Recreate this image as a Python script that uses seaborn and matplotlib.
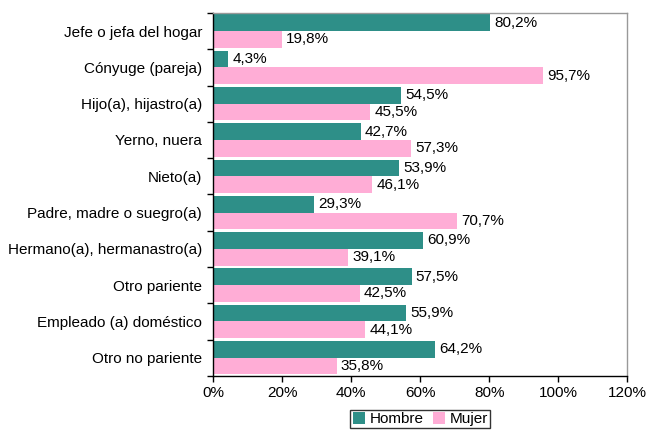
import pandas as pd
import numpy as np
import matplotlib
matplotlib.use("Agg")
import matplotlib.pyplot as plt
import seaborn as sns
from matplotlib.ticker import FuncFormatter, FixedLocator

sns.set_style("white")
plt.rcParams['font.family'] = ['Liberation Sans', 'DejaVu Sans']
plt.rcParams['text.color'] = "black"
plt.rcParams['xtick.color'] = "black"
plt.rcParams['ytick.color'] = "black"

# datos
categorias = ["Jefe o jefa del hogar", "Cónyuge (pareja)", "Hijo(a), hijastro(a)",
              "Yerno, nuera", "Nieto(a)", "Padre, madre o suegro(a)",
              "Hermano(a), hermanastro(a)", "Otro pariente",
              "Empleado (a) doméstico", "Otro no pariente"]
hombre = [80.2, 4.3, 54.5, 42.7, 53.9, 29.3, 60.9, 57.5, 55.9, 64.2]
mujer = [19.8, 95.7, 45.5, 57.3, 46.1, 70.7, 39.1, 42.5, 44.1, 35.8]
series = ["Hombre", "Mujer"]
colores = ["#2E8F88", "#FFADD6"]

df = pd.DataFrame({
    "categoria": categorias * 2,
    "valor": hombre + mujer,
    "sexo": ["Hombre"] * len(categorias) + ["Mujer"] * len(categorias),
})

fs = 11

fig = plt.figure(figsize=(6.46, 4.32), dpi=100)
ax = fig.add_axes([0.330, 0.130, 0.641, 0.840])

sns.barplot(data=df, x="valor", y="categoria", hue="sexo", order=categorias,
            hue_order=series, palette=colores, saturation=1, width=0.92,
            orient="h", edgecolor="none", ax=ax)

# etiquetas de datos
for cont in ax.containers:
    labels = [f"{v:.1f}%".replace(".", ",") for v in cont.datavalues]
    ax.bar_label(cont, labels=labels, padding=3, fontsize=fs, color="black")

ax.set_xlim(0, 120)
ax.set_ylim(len(categorias) - 0.5, -0.5)
ax.set_xticks(np.arange(0, 121, 20))
ax.xaxis.set_major_formatter(FuncFormatter(lambda v, p: f"{v:.0f}%"))
ax.set_xlabel("")
ax.set_ylabel("")
ax.tick_params(axis="x", length=4, width=1, labelsize=fs, direction="out", bottom=True,
               color="black", labelcolor="black")
ax.tick_params(axis="y", which="major", length=0, labelsize=fs, pad=8, labelcolor="black")
ax.yaxis.set_minor_locator(FixedLocator(np.arange(-0.5, len(categorias), 1)))
ax.tick_params(axis="y", which="minor", length=4, width=1, left=True, color="black")

for s in ["top", "right"]:
    ax.spines[s].set_color("#999999")
    ax.spines[s].set_linewidth(1)
for s in ["left", "bottom"]:
    ax.spines[s].set_color("black")
    ax.spines[s].set_linewidth(1)

leg = ax.legend(loc="upper center", bbox_to_anchor=(0.5, -0.093), ncol=2,
                frameon=True, fancybox=False, fontsize=fs, handlelength=0.8,
                handleheight=0.8, handletextpad=0.3, columnspacing=0.6,
                borderpad=0.15, borderaxespad=0)
leg.get_frame().set_edgecolor("black")
leg.get_frame().set_linewidth(1)
for t in leg.get_texts():
    t.set_color("black")

fig.savefig("out.png", dpi=100)
